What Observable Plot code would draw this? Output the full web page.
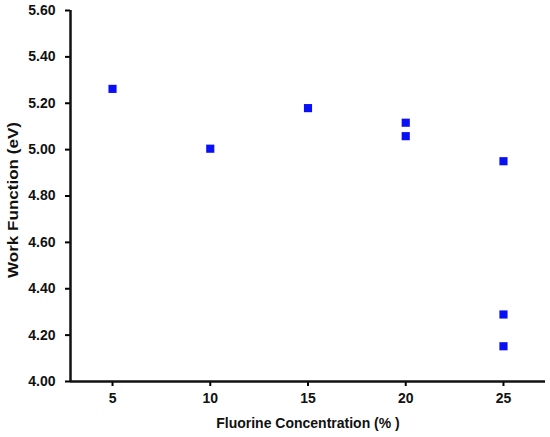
<!DOCTYPE html>
<html>
<head>
<meta charset="utf-8">
<script src="https://cdn.jsdelivr.net/npm/d3@7"></script>
<script src="https://cdn.jsdelivr.net/npm/@observablehq/plot@0.6"></script>
<style>
  body { margin: 0; background: #fff; }
  svg { font-family: "Liberation Sans", Arial, sans-serif; }
  svg text { font-weight: bold; fill: #111; }
  svg text.tick { font-size: 14px; }
  svg text.title { font-size: 14px; }
</style>
</head>
<body>
<div id="chart"></div>
<script>
const concentration = [5, 10, 15, 20, 20, 25, 25, 25];
const workFunction = [5.262, 5.004, 5.179, 5.116, 5.058, 4.950, 4.289, 4.152];
const xTicks = [5, 10, 15, 20, 25];
const yTicks = [4.0, 4.2, 4.4, 4.6, 4.8, 5.0, 5.2, 5.4, 5.6];
const xTitle = "Fluorine Concentration (% )";
const yTitle = "Work Function (eV)";

const data = concentration.map((c, i) => ({c, w: workFunction[i]}));

const chart = Plot.plot({
  width: 550,
  height: 437,
  marginLeft: 70,
  marginRight: 5,
  marginTop: 10,
  marginBottom: 56,
  style: {fontFamily: "'Liberation Sans', Arial, sans-serif", background: "#fff", color: "#000"},
  x: {domain: [2.85, 27.15]},
  y: {domain: [4.0, 5.6]},
  marks: [
    Plot.axisX({
      ticks: xTicks, tickSize: 5, tickPadding: 7, fontSize: 14, fontWeight: "bold",
      strokeWidth: 2, label: null
    }),
    Plot.axisY({
      ticks: yTicks, tickSize: 5, tickPadding: 10, fontSize: 14, fontWeight: "bold",
      strokeWidth: 2, tickFormat: d3.format(".2f"), label: null
    }),
    Plot.ruleY([4.0], {stroke: "#111", strokeWidth: 2.5}),
    Plot.ruleX([2.85], {stroke: "#111", strokeWidth: 2.5}),
    Plot.dot(data, {x: "c", y: "w", symbol: "square", r: 4.6, fill: "#0a10f5", stroke: "none"}),
    Plot.text([xTitle], {frameAnchor: "bottom", dy: 46, text: d => d, fontSize: 14, fontWeight: "bold", textAnchor: "middle"}),
    Plot.text([yTitle], {frameAnchor: "left", dx: -57, dy: 4, rotate: -90, text: d => d, fontSize: 14, fontWeight: "bold", textAnchor: "middle"})
  ]
});
chart.querySelectorAll("text").forEach(t => {
  const s = t.textContent;
  if (s === xTitle || s === yTitle) {
    t.classList.add("title");
    if (s === yTitle) {
      t.setAttribute("textLength", "156");
      t.setAttribute("lengthAdjust", "spacingAndGlyphs");
    }
  } else t.classList.add("tick");
});
document.getElementById("chart").appendChild(chart);
</script>
</body>
</html>
